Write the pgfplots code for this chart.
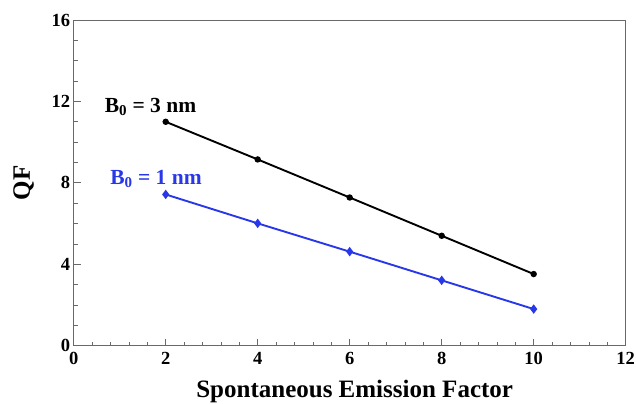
\documentclass[border=0pt]{standalone}
\usepackage{fontspec}
\setmainfont{Liberation Serif}
\usepackage{pgfplots}
\pgfplotsset{compat=1.18}
\definecolor{bluenm}{RGB}{40,55,232}
\definecolor{framegray}{RGB}{105,105,105}
\begin{document}
\begin{tikzpicture}
\path[use as bounding box] (-73.7bp,-58.3bp) rectangle (562.3bp,345.7bp);
\begin{axis}[
  at={(0,0)}, anchor=origin,
  scale only axis, width=552bp, height=325.7bp,
  xmin=0, xmax=12, ymin=0, ymax=16,
  xtick={0,2,...,12}, ytick={0,4,...,16},
  minor x tick num=4, minor y tick num=3,
  tick align=inside, tick pos=left,
  axis line style={framegray, line width=0.9pt},
  major tick style={framegray, line width=0.8pt},
  minor tick style={framegray, line width=0.7pt},
  major tick length=7bp, minor tick length=4bp,
  tick label style={font=\fontsize{18.5bp}{20bp}\selectfont\bfseries},
  xticklabel style={yshift=-3bp},
  /pgf/number format/assume math mode=true,
  xlabel={\fontsize{25bp}{27bp}\selectfont\bfseries Spontaneous Emission Factor},
  ylabel={\fontsize{25bp}{27bp}\selectfont\bfseries QF},
  xlabel style={yshift=-9bp, xshift=5bp},
  ylabel style={yshift=11bp},
  clip=false,
]
\addplot[black, line width=1.9pt, mark=*, mark size=2.2bp] coordinates {
  (2,11.0) (4,9.15) (6,7.28) (8,5.40) (10,3.52)
};
\addplot[bluenm, line width=1.9pt, mark=diamond*, mark size=3.2bp] coordinates {
  (2,7.43) (4,6.01) (6,4.62) (8,3.21) (10,1.80)
};
\node[anchor=west, font=\fontsize{21.5bp}{23bp}\selectfont\bfseries] at (axis cs:0.6,11.75) {B\textsubscript{0} = 3 nm};
\node[anchor=west, text=bluenm, font=\fontsize{21.5bp}{23bp}\selectfont\bfseries] at (axis cs:0.72,8.2) {B\textsubscript{0} = 1 nm};
\end{axis}
\end{tikzpicture}
\end{document}
